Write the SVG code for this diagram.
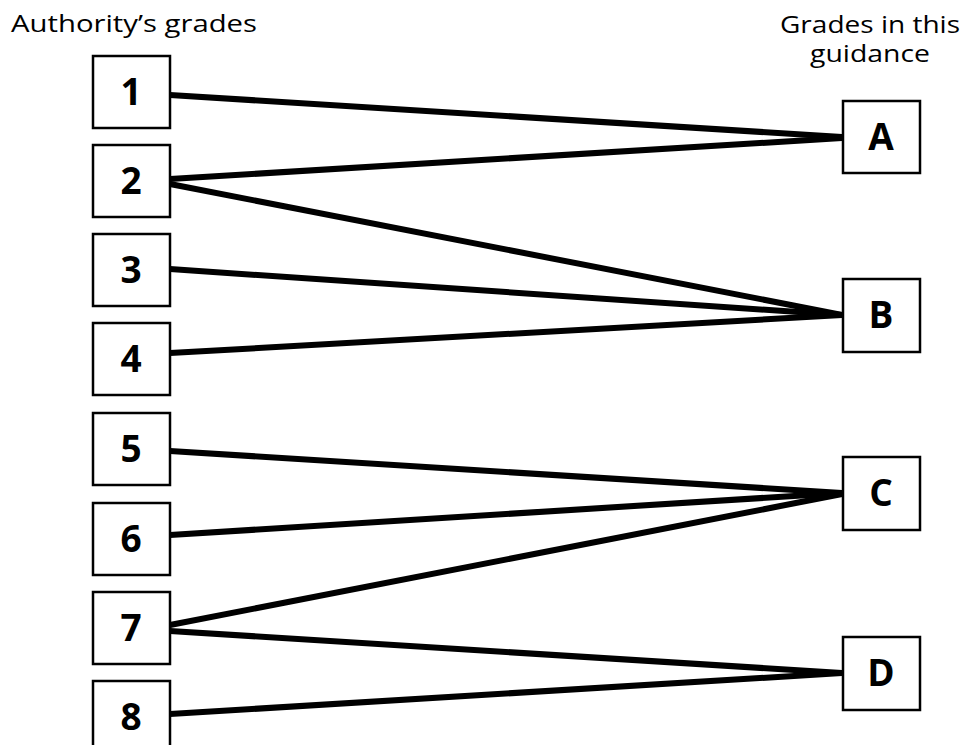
<svg xmlns="http://www.w3.org/2000/svg" width="966" height="745" viewBox="0 0 966 745">
<style>
.box{fill:#fff;stroke:#000;stroke-width:2.5}
.num{font-family:"Open Sans","DejaVu Sans",sans-serif;font-weight:bold;font-size:37px;text-anchor:middle;fill:#000}
.hdr{font-family:"Open Sans","DejaVu Sans",sans-serif;font-size:23.5px;fill:#000}
.ln{stroke:#000;stroke-width:6;stroke-linecap:butt;fill:none}
</style>
<rect width="966" height="745" fill="#fff"/>
<text class="hdr" x="11" y="32" textLength="246" lengthAdjust="spacingAndGlyphs">Authority’s grades</text>
<text class="hdr" x="780" y="33" textLength="180" lengthAdjust="spacingAndGlyphs">Grades in this</text>
<text class="hdr" x="810" y="62" textLength="120" lengthAdjust="spacingAndGlyphs">guidance</text>
<g id="connectors">
<line class="ln" x1="170" y1="95" x2="842" y2="137"/>
<line class="ln" x1="170" y1="179" x2="842" y2="138"/>
<line class="ln" x1="170" y1="184" x2="842" y2="315"/>
<line class="ln" x1="170" y1="269" x2="842" y2="315"/>
<line class="ln" x1="170" y1="353" x2="842" y2="315"/>
<line class="ln" x1="170" y1="451" x2="842" y2="493"/>
<line class="ln" x1="170" y1="535" x2="842" y2="493"/>
<line class="ln" x1="170" y1="625" x2="842" y2="494"/>
<line class="ln" x1="170" y1="631" x2="842" y2="673"/>
<line class="ln" x1="170" y1="714" x2="842" y2="673"/>
</g>
<g id="n1"><rect class="box" x="93" y="56" width="77" height="72"/><text class="num" x="131" y="105">1</text></g>
<g id="n2"><rect class="box" x="93" y="145" width="77" height="72"/><text class="num" x="131" y="194">2</text></g>
<g id="n3"><rect class="box" x="93" y="234" width="77" height="72"/><text class="num" x="131" y="283">3</text></g>
<g id="n4"><rect class="box" x="93" y="323" width="77" height="72"/><text class="num" x="131" y="372">4</text></g>
<g id="n5"><rect class="box" x="93" y="413" width="77" height="72"/><text class="num" x="131" y="462">5</text></g>
<g id="n6"><rect class="box" x="93" y="503" width="77" height="72"/><text class="num" x="131" y="552">6</text></g>
<g id="n7"><rect class="box" x="93" y="592" width="77" height="72"/><text class="num" x="131" y="641">7</text></g>
<g id="n8"><rect class="box" x="93" y="681" width="77" height="72"/><text class="num" x="131" y="730">8</text></g>
<g id="nA"><rect class="box" x="843" y="101" width="77" height="72"/><text class="num" x="881" y="150">A</text></g>
<g id="nB"><rect class="box" x="843" y="279" width="77" height="73"/><text class="num" x="881" y="328">B</text></g>
<g id="nC"><rect class="box" x="843" y="457" width="77" height="73"/><text class="num" x="881" y="506">C</text></g>
<g id="nD"><rect class="box" x="843" y="637" width="77" height="73"/><text class="num" x="881" y="686">D</text></g>
</svg>
